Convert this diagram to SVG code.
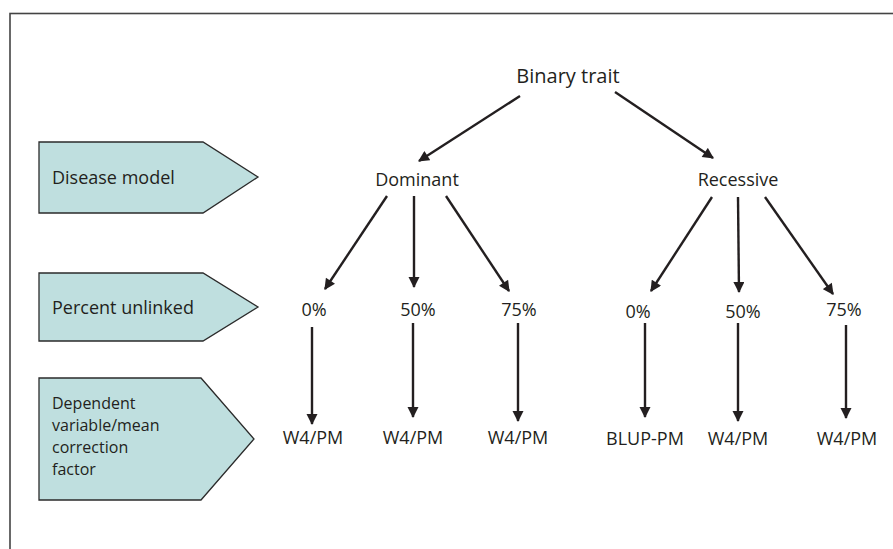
<svg xmlns="http://www.w3.org/2000/svg" width="893" height="549" viewBox="0 0 893 549">
<defs>
<style>
.t{font-family:"Open Sans","Liberation Sans",sans-serif;font-size:18px;fill:#231f20}
.s{font-size:16px}
.c{text-anchor:middle}
.box{fill:#bfdfdf;stroke:#2b2b2b;stroke-width:1.3}
.ln{stroke:#231f20;stroke-width:2.4;fill:none;marker-end:url(#ah)}
</style>
<marker id="ah" viewBox="0 0 10 10" refX="9" refY="5" markerWidth="5" markerHeight="4.6" orient="auto" markerUnits="strokeWidth">
<path d="M0,0 L10,5 L0,10 Z" fill="#231f20"/>
</marker>
</defs>
<rect x="0" y="0" width="893" height="549" fill="#fff"/>
<rect x="10" y="13.5" width="900" height="600" fill="none" stroke="#444" stroke-width="1.6"/>

<g id="label-disease-model">
<polygon class="box" points="39,142 203,142 258,177 203,213 39,213"/>
<text class="t" x="52" y="184">Disease model</text>
</g>
<g id="label-percent-unlinked">
<polygon class="box" points="39,273 203,273 258,307 203,341 39,341"/>
<text class="t" x="52" y="314">Percent unlinked</text>
</g>
<g id="label-dependent">
<polygon class="box" points="39,378 201,378 254,439 201,500 39,500"/>
<text class="t s" x="52" y="409">Dependent</text>
<text class="t s" x="52" y="431">variable/mean</text>
<text class="t s" x="52" y="453">correction</text>
<text class="t s" x="52" y="475">factor</text>
</g>

<g id="binary-trait"><text class="t c" x="568" y="83" style="font-size:20px">Binary trait</text></g>
<g id="dominant"><text class="t c" x="417" y="186">Dominant</text></g>
<g id="recessive"><text class="t c" x="738" y="186">Recessive</text></g>
<g id="dom-0"><text class="t c" x="314" y="316">0%</text></g>
<g id="dom-50"><text class="t c" x="418" y="316">50%</text></g>
<g id="dom-75"><text class="t c" x="519" y="316">75%</text></g>
<g id="rec-0"><text class="t c" x="638" y="318">0%</text></g>
<g id="rec-50"><text class="t c" x="743" y="318">50%</text></g>
<g id="rec-75"><text class="t c" x="844" y="316">75%</text></g>
<g id="dom-0-res"><text class="t c" x="313" y="444">W4/PM</text></g>
<g id="dom-50-res"><text class="t c" x="413" y="444">W4/PM</text></g>
<g id="dom-75-res"><text class="t c" x="518" y="444">W4/PM</text></g>
<g id="rec-0-res"><text class="t c" x="645" y="445">BLUP-PM</text></g>
<g id="rec-50-res"><text class="t c" x="738" y="445">W4/PM</text></g>
<g id="rec-75-res"><text class="t c" x="847" y="445">W4/PM</text></g>

<g id="connectors">
<line class="ln" x1="520" y1="96" x2="419" y2="161"/>
<line class="ln" x1="615" y1="92" x2="713" y2="158"/>
<line class="ln" x1="387" y1="196" x2="325" y2="289"/>
<line class="ln" x1="414" y1="196" x2="414" y2="287"/>
<line class="ln" x1="446" y1="196" x2="509" y2="291"/>
<line class="ln" x1="712" y1="197" x2="651" y2="291"/>
<line class="ln" x1="738" y1="197" x2="739" y2="292"/>
<line class="ln" x1="765" y1="197" x2="833" y2="294"/>
<line class="ln" x1="312" y1="327" x2="312" y2="424"/>
<line class="ln" x1="413" y1="323" x2="413" y2="417"/>
<line class="ln" x1="518" y1="323" x2="518" y2="421"/>
<line class="ln" x1="645" y1="323" x2="645" y2="417"/>
<line class="ln" x1="738" y1="323" x2="738" y2="421"/>
<line class="ln" x1="846" y1="325" x2="846" y2="418"/>
</g>
</svg>
